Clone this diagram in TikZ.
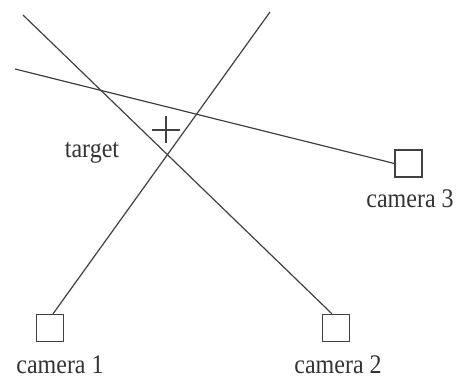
\documentclass[tikz,border=0pt]{standalone}
\usepackage{fontspec}
\setmainfont{Liberation Serif}
\usetikzlibrary{calc}
\begin{document}
\begin{tikzpicture}[x=1pt,y=-1pt,
  cam/.style={draw=black!75,line width=1.3pt,minimum size=27pt,inner sep=0pt},
  ray/.style={draw=black!75,line width=1.2pt},
  lbl/.style={anchor=base,inner sep=0pt,text=black!80,yscale=1.12,font=\fontsize{24}{29}\selectfont}]
\useasboundingbox (0,0) rectangle (463,383);
\node[cam] (cam1) at (50,328) {};
\node[cam] (cam2) at (336,328) {};
\node[cam] (cam3) at (408.5,163.5) {};
\node[lbl] (l1) at (60,373) {camera 1};
\node[lbl] (l2) at (338,373) {camera 2};
\node[lbl] (l3) at (410,207) {camera 3};
\node[lbl] (lt) at (92,157) {target};
\coordinate (e1) at (270,12);
\coordinate (e2) at (23,15);
\coordinate (e3) at (15,69);
\draw[ray] ($(cam1.north)+(3,0)$) -- (e1);
\draw[ray] ($(cam2.north)+(-4,0)$) -- (e2);
\draw[ray] (cam3.west) -- (e3);
\coordinate (tg) at (166,130);
\draw[ray] ($(tg)+(-14,0)$) -- ($(tg)+(14,0)$);
\draw[ray] ($(tg)+(0,-14)$) -- ($(tg)+(0,13)$);
\end{tikzpicture}
\end{document}
